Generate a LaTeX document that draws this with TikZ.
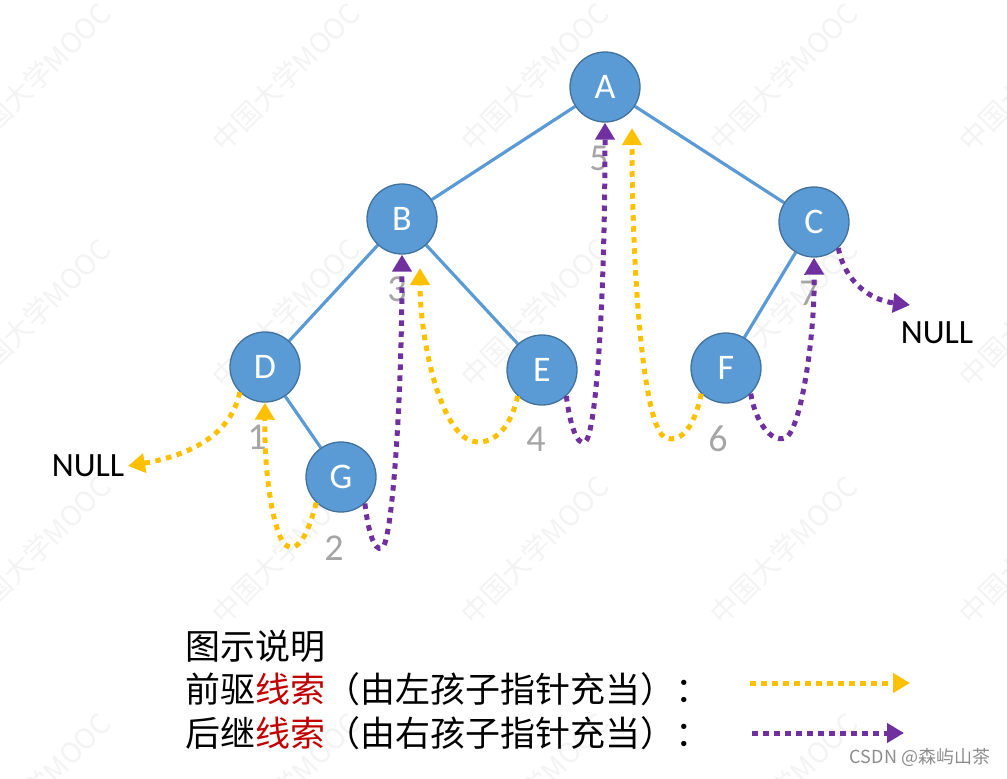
\documentclass[tikz,border=0pt]{standalone}
\usepackage{fontspec}
\setmainfont{Carlito}
\newfontfamily\cjk{Noto Sans CJK SC}
\usetikzlibrary{arrows.meta}
\definecolor{nodeblue}{HTML}{5B9BD5}
\definecolor{nodeedge}{HTML}{41719C}
\definecolor{thrO}{HTML}{FFC000}
\definecolor{thrP}{HTML}{7030A0}
\definecolor{numgray}{HTML}{A6A6A6}
\definecolor{wmgray}{HTML}{F3F3F3}
\definecolor{legred}{HTML}{C00000}
\definecolor{csdngray}{HTML}{8C8C8C}
\pgfdeclarelayer{bg}
\pgfsetlayers{bg,main}
\begin{document}
\begin{tikzpicture}[x=1pt,y=-1pt,
  treenode/.style={circle, fill=nodeblue, draw=nodeedge, line width=1.3pt, minimum size=70pt, inner sep=0pt, text=white, font=\fontsize{36}{40}\selectfont},
  treeedge/.style={draw=nodeblue, line width=3.2pt},
  thread/.style={line width=5pt, dash pattern=on 5.5pt off 5.5pt, -{Triangle[length=17pt,width=19pt]}},
  pre/.style={thread, draw=thrO},
  suc/.style={thread, draw=thrP},
  num/.style={text=numgray, font=\fontsize{38}{40}\selectfont, inner sep=0pt},
  nulltext/.style={font=\fontsize{34}{40}\selectfont, inner sep=0pt},
  legend/.style={font=\cjk\fontsize{35}{40}\selectfont, anchor=west, inner sep=0pt},
  watermark/.style={text=wmgray, font=\cjk\fontsize{28}{30}\selectfont, rotate=45, inner sep=0pt}
]
\useasboundingbox (0,0) rectangle (1007,779);

% tree nodes
\node[treenode] (A) at (605,87) {A};
\node[treenode] (B) at (402,219) {B};
\node[treenode] (C) at (814,222) {C};
\node[treenode] (D) at (265,367) {D};
\node[treenode] (E) at (542,370) {E};
\node[treenode] (F) at (726,368) {F};
\node[treenode] (G) at (341,477) {G};

\begin{pgfonlayer}{bg}
  % watermark
  \foreach \wy in {77,313,550,787}{
    \foreach \wx in {37,286,535,784,1033}{
      \node[watermark] at (\wx,\wy) {中国大学MOOC};
    }
  }
  % tree edges
  \draw[treeedge] (A) -- (B);
  \draw[treeedge] (A) -- (C);
  \draw[treeedge] (B) -- (D);
  \draw[treeedge] (B) -- (E);
  \draw[treeedge] (C) -- (F);
  \draw[treeedge] (D) -- (G);
\end{pgfonlayer}

% order numbers
\node[num] (n1) at (257,437) {1};
\node[num] (n2) at (334,548) {2};
\node[num] (n3) at (397,289) {3};
\node[num] (n4) at (536,439) {4};
\node[num] (n5) at (599,158) {5};
\node[num] (n6) at (718,439) {6};
\node[num] (n7) at (809,293) {7};

% NULL labels
\node[nulltext] (nullL) at (88,466) {NULL};
\node[nulltext] (nullR) at (937,333) {NULL};

% free ends
\coordinate (nullLtip) at (128,466);
\coordinate (nullRtip) at (910,305);
\coordinate (Btip) at (420,268);
\coordinate (Atip) at (632,128);

% threads
\draw[pre] (D.225) .. controls (230,440) and (180,457) .. (nullLtip);
\draw[pre] (G.226) .. controls (308,535) and (298,552) .. (287,546) .. controls (275,540) and (264,480) .. (D.south);
\draw[suc] (G.-48) .. controls (368,530) and (374,552) .. (382,548) .. controls (392,544) and (402,400) .. (B.south);
\draw[pre] (E.227) .. controls (510,432) and (490,446) .. (472,441) .. controls (440,432) and (420,340) .. (Btip);
\draw[suc] (E.-47) .. controls (570,425) and (577,446) .. (585,442) .. controls (596,436) and (605,300) .. (A.south);
\draw[pre] (F.226) .. controls (695,425) and (682,443) .. (666,438) .. controls (642,430) and (632,260) .. (Atip);
\draw[suc] (F.-46) .. controls (755,420) and (770,443) .. (785,438) .. controls (800,433) and (815,340) .. (C.south);
\draw[suc] (C.-47) .. controls (845,282) and (870,300) .. (nullRtip);

% legend
\node[legend] (leg0) at (185,646) {图示说明};
\node[legend] (leg1) at (185,689) {前驱\textcolor{legred}{线索}（由左孩子指针充当）：};
\node[legend] (leg2) at (185,733) {后继\textcolor{legred}{线索}（由右孩子指针充当）：};
\coordinate (lo1) at (750,683);
\coordinate (lo2) at (910,683);
\coordinate (lp1) at (752,733);
\coordinate (lp2) at (904,733);
\draw[pre] (lo1) -- (lo2);
\draw[suc] (lp1) -- (lp2);

% credit
\node[font=\cjk\fontsize{18}{20}\selectfont, text=csdngray, inner sep=0pt] (csdn) at (920,757) {CSDN @森屿山茶};
\end{tikzpicture}
\end{document}
